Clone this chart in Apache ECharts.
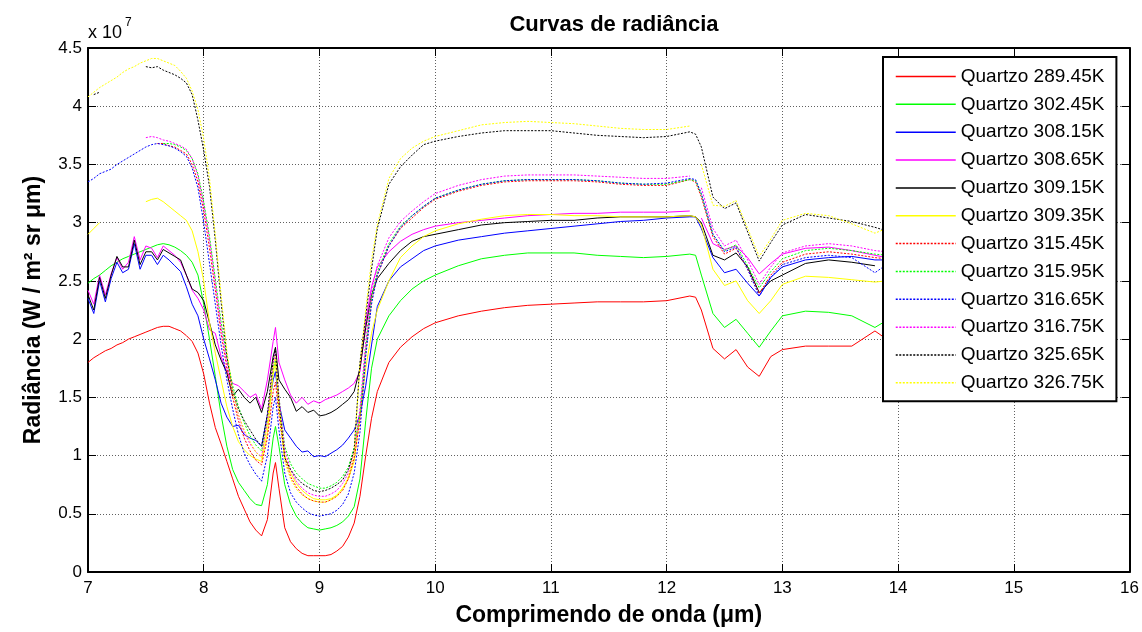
<!DOCTYPE html>
<html>
<head>
<meta charset="utf-8">
<script src="https://cdn.jsdelivr.net/npm/echarts@6/dist/echarts.min.js"></script>
<style>
  html, body { margin: 0; padding: 0; background: #fff; }
  #chart { width: 1142px; height: 632px; }
</style>
</head>
<body>
<div id="chart"></div>
<script>
// Wavelength samples (µm) shared by all curves
const wavelength = [
  7.0, 7.05, 7.1, 7.15, 7.2, 7.25, 7.3, 7.35, 7.4, 7.45,
  7.5, 7.55, 7.6, 7.65, 7.7, 7.75, 7.8, 7.85, 7.9, 7.95,
  8.0, 8.05, 8.1, 8.15, 8.2, 8.25, 8.3, 8.35, 8.4, 8.45,
  8.5, 8.55, 8.6, 8.62, 8.65, 8.7, 8.75, 8.8, 8.85, 8.9,
  8.95, 9.0, 9.05, 9.1, 9.15, 9.2, 9.25, 9.3, 9.35, 9.4,
  9.45, 9.5, 9.6, 9.7, 9.8, 9.9, 10.0, 10.2, 10.4, 10.6,
  10.8, 11.0, 11.2, 11.4, 11.6, 11.8, 12.0, 12.2, 12.25, 12.3,
  12.4, 12.5, 12.6, 12.7, 12.8, 12.9, 13.0, 13.2, 13.4, 13.6,
  13.8, 13.9
];

// Radiance in units of 1e7 W / (m^2 sr µm); null = missing sample
const q28945 = [
  1.80, 1.84, 1.87, 1.90, 1.92, 1.95, 1.97, 2.00, 2.02, 2.04,
  2.06, 2.08, 2.10, 2.11, 2.11, 2.09, 2.07, 2.03, 1.98, 1.88,
  1.70, 1.45, 1.24, 1.10, 0.95, 0.80, 0.65, 0.54, 0.43, 0.36,
  0.31, 0.45, 0.85, 0.94, 0.72, 0.38, 0.26, 0.20, 0.16, 0.14,
  0.14, 0.14, 0.14, 0.15, 0.18, 0.22, 0.30, 0.42, 0.65, 1.00,
  1.32, 1.55, 1.80, 1.93, 2.02, 2.09, 2.14, 2.20, 2.24, 2.27,
  2.29, 2.30, 2.31, 2.32, 2.32, 2.32, 2.33, 2.37, 2.36, 2.25,
  1.92, 1.83, 1.91, 1.76, 1.68, 1.85, 1.91, 1.94, 1.94, 1.94,
  2.07, 2.00
];
const q30245 = [
  2.48, 2.52, 2.55, 2.59, 2.63, 2.66, 2.69, 2.71, 2.73, 2.75,
  2.77, 2.79, 2.81, 2.82, 2.81, 2.79, 2.76, 2.72, 2.66, 2.55,
  2.30, 2.00, 1.68, 1.35, 1.08, 0.88, 0.77, 0.70, 0.63, 0.58,
  0.57, 0.75, 1.15, 1.25, 1.08, 0.75, 0.58, 0.48, 0.42, 0.38,
  0.37, 0.36, 0.37, 0.38, 0.40, 0.43, 0.48, 0.56, 0.80, 1.30,
  1.75, 2.00, 2.20, 2.33, 2.43, 2.50, 2.55, 2.63, 2.69, 2.72,
  2.74, 2.74, 2.74, 2.72, 2.71, 2.70, 2.71, 2.73, 2.72, 2.55,
  2.22, 2.10, 2.17, 2.05, 1.93, 2.07, 2.20, 2.24, 2.23, 2.20,
  2.10, 2.16
];
const q30815 = [
  2.35, 2.22, 2.50, 2.32, 2.52, 2.66, 2.57, 2.60, 2.82, 2.60,
  2.72, 2.72, 2.64, 2.72, 2.68, 2.63, 2.58, 2.45, 2.30, 2.20,
  2.00, 1.83, 1.65, 1.45, 1.33, 1.25, 1.26, 1.18, 1.15, 1.13,
  1.08, 1.35, 1.65, 1.72, 1.45, 1.22, 1.15, 1.08, 1.03, 1.04,
  0.99, 1.00, 0.99, 1.02, 1.05, 1.09, 1.15, 1.22, 1.35, 1.60,
  1.95, 2.28, 2.50, 2.62, 2.69, 2.76, 2.80, 2.85, 2.88, 2.91,
  2.93, 2.95, 2.97, 2.99, 3.01, 3.02, 3.04, 3.05, 3.05, 2.95,
  2.70, 2.57, 2.60, 2.48, 2.37, 2.53, 2.62, 2.68, 2.70, 2.71,
  2.68, 2.68
];
const q30865 = [
  2.42, 2.30, 2.55, 2.38, 2.56, 2.70, 2.60, 2.66, 2.88, 2.68,
  2.80, 2.78, 2.70, 2.80, 2.76, 2.72, 2.66, 2.55, 2.42, 2.35,
  2.25, 2.08, 2.05, 1.85, 1.72, 1.62, 1.60, 1.55, 1.50, 1.53,
  1.40, 1.65, 1.98, 2.10, 1.80, 1.65, 1.52, 1.45, 1.50, 1.44,
  1.47, 1.45, 1.48, 1.50, 1.52, 1.55, 1.58, 1.62, 1.72, 2.15,
  2.45, 2.62, 2.75, 2.84, 2.90, 2.94, 2.97, 3.00, 3.02, 3.04,
  3.06, 3.07, 3.08, 3.08, 3.09, 3.09, 3.09, 3.10, null, 3.04,
  2.82, 2.77, 2.80, 2.70, 2.56, 2.65, 2.73, 2.78, 2.79, 2.76,
  2.72, 2.70
];
const q30915 = [
  2.38, 2.25, 2.53, 2.35, 2.55, 2.71, 2.62, 2.62, 2.85, 2.64,
  2.75, 2.75, 2.68, 2.77, 2.74, 2.71, 2.68, 2.55, 2.43, 2.40,
  2.33, 2.14, 1.95, 1.82, 1.71, 1.51, 1.57, 1.50, 1.45, 1.50,
  1.37, 1.55, 1.85, 1.93, 1.65, 1.57, 1.50, 1.38, 1.42, 1.37,
  1.39, 1.34, 1.35, 1.37, 1.40, 1.44, 1.48, 1.55, 1.75, 2.10,
  2.38, 2.52, 2.65, 2.76, 2.84, 2.88, 2.90, 2.94, 2.98, 3.00,
  3.01, 3.02, 3.02, 3.04, 3.05, 3.05, 3.05, 3.06, 3.05, 3.00,
  2.72, 2.68, 2.74, 2.62, 2.40, 2.50, 2.55, 2.65, 2.68, 2.66,
  2.63, null
];
const q30935 = [
  2.90, 2.95, 3.00, null, null, null, null, null, null, null,
  3.18, 3.20, 3.21, 3.18, 3.14, 3.10, 3.06, 3.02, 2.93, 2.75,
  2.50, 2.14, 1.88, 1.65, 1.42, 1.25, 1.12, 1.05, 1.00, 0.97,
  0.95, 1.20, 1.70, 1.80, 1.45, 1.00, 0.85, 0.76, 0.70, 0.66,
  0.63, 0.62, 0.62, 0.63, 0.66, 0.72, 0.80, 0.95, 1.35, 1.75,
  2.05, 2.25, 2.50, 2.70, 2.80, 2.88, 2.93, 2.99, 3.03, 3.06,
  3.07, 3.07, 3.06, 3.06, 3.05, 3.05, 3.05, 3.06, 3.05, 2.98,
  2.60, 2.46, 2.50, 2.33, 2.22, 2.33, 2.47, 2.54, 2.53, 2.51,
  2.49, 2.50
];
const q31545 = [
  null, null, null, null, null, null, null, null, null, null,
  null, null, 3.68, 3.68, 3.66, 3.65, 3.62, 3.59, 3.50, 3.35,
  3.10, 2.78, 2.42, 2.05, 1.75, 1.50, 1.30, 1.15, 1.04, 0.96,
  0.92, 1.15, 1.55, 1.63, 1.35, 0.98, 0.82, 0.73, 0.67, 0.63,
  0.61, 0.60, 0.60, 0.62, 0.65, 0.70, 0.80, 0.98, 1.30, 1.88,
  2.33, 2.55, 2.80, 2.95, 3.04, 3.13, 3.20, 3.27, 3.32, 3.35,
  3.36, 3.36, 3.36, 3.35, 3.33, 3.32, 3.32, 3.37, 3.35, 3.22,
  2.88, 2.73, 2.78, 2.60, 2.39, 2.55, 2.66, 2.73, 2.75, 2.73,
  2.70, 2.69
];
const q31595 = [
  null, null, null, null, null, null, null, null, null, null,
  null, null, null, 3.68, 3.68, 3.67, 3.65, 3.62, 3.55, 3.42,
  3.18, 2.88, 2.52, 2.15, 1.85, 1.60, 1.42, 1.28, 1.17, 1.09,
  1.04, 1.30, 1.75, 1.82, 1.50, 1.08, 0.93, 0.85, 0.80, 0.76,
  0.74, 0.72, 0.72, 0.74, 0.77, 0.82, 0.90, 1.07, 1.35, 1.92,
  2.36, 2.58, 2.82, 2.97, 3.06, 3.14, 3.21, 3.28, 3.33, 3.36,
  3.37, 3.37, 3.37, 3.36, 3.34, 3.33, 3.33, 3.37, 3.36, 3.24,
  2.90, 2.76, 2.81, 2.63, 2.44, 2.58, 2.69, 2.76, 2.78, 2.76,
  2.73, 2.72
];
const q31665 = [
  3.35, 3.38, 3.42, 3.44, 3.46, 3.50, 3.53, 3.56, 3.59, 3.62,
  3.65, 3.67, 3.68, 3.67, 3.66, 3.64, 3.61, 3.57, 3.47, 3.30,
  3.00, 2.65, 2.30, 1.95, 1.65, 1.40, 1.18, 1.02, 0.92, 0.84,
  0.78, 1.00, 1.42, 1.50, 1.22, 0.85, 0.68, 0.60, 0.55, 0.51,
  0.49, 0.48, 0.49, 0.50, 0.53, 0.58, 0.67, 0.85, 1.20, 1.85,
  2.30, 2.55, 2.80, 2.96, 3.06, 3.14, 3.21, 3.28, 3.33, 3.36,
  3.37, 3.37, 3.37, 3.36, 3.34, 3.33, 3.34, 3.38, 3.37, 3.25,
  2.90, 2.75, 2.79, 2.60, 2.37, 2.53, 2.64, 2.70, 2.72, 2.70,
  2.57, 2.64
];
const q31675 = [
  null, null, null, null, null, null, null, null, null, null,
  3.73, 3.74, 3.73, 3.71, 3.70, 3.68, 3.66, 3.63, 3.55, 3.40,
  3.15, 2.85, 2.48, 2.10, 1.80, 1.55, 1.35, 1.20, 1.10, 1.03,
  0.99, 1.30, 1.80, 1.88, 1.50, 1.05, 0.88, 0.78, 0.72, 0.68,
  0.66, 0.65, 0.65, 0.67, 0.70, 0.76, 0.85, 1.03, 1.40, 1.98,
  2.42, 2.63, 2.87, 3.01, 3.10, 3.18, 3.25, 3.32, 3.37, 3.40,
  3.41, 3.41, 3.41, 3.40, 3.39, 3.38, 3.38, 3.40, null, 3.30,
  2.95, 2.80, 2.85, 2.68, 2.47, 2.62, 2.74, 2.80, 2.82, 2.80,
  2.76, 2.75
];
const q32565 = [
  null, 4.10, 4.12, null, null, null, null, null, null, null,
  4.34, 4.33, 4.34, 4.31, 4.29, 4.27, 4.24, 4.20, 4.10, 3.88,
  3.62, 3.31, 2.85, 2.32, 1.85, 1.55, 1.40, 1.30, 1.22, 1.14,
  1.08, 1.35, 1.82, 1.92, 1.45, 0.98, 0.88, 0.81, 0.76, 0.73,
  0.70, 0.69, 0.70, 0.72, 0.75, 0.79, 0.88, 1.05, 1.80, 2.20,
  2.60, 2.95, 3.33, 3.48, 3.58, 3.67, 3.70, 3.74, 3.77, 3.79,
  3.79, 3.79, 3.77, 3.75, 3.74, 3.73, 3.74, 3.78, 3.76, 3.65,
  3.22, 3.12, 3.17, 2.92, 2.67, 2.83, 2.98, 3.07, 3.04, 3.01,
  2.96, 2.93
];
const q32675 = [
  4.08, 4.12, 4.16, 4.19, 4.22, 4.25, 4.29, 4.32, 4.34, 4.37,
  4.39, 4.41, 4.41, 4.39, 4.37, 4.35, 4.30, 4.24, 4.13, 3.97,
  3.72, 3.38, 2.90, 2.38, 1.90, 1.55, 1.35, 1.22, 1.12, 1.03,
  0.98, 1.28, 1.75, 1.85, 1.42, 0.95, 0.80, 0.71, 0.66, 0.63,
  0.61, 0.60, 0.60, 0.62, 0.65, 0.71, 0.82, 1.02, 1.78, 2.25,
  2.68, 2.98, 3.38, 3.55, 3.64, 3.70, 3.74, 3.79, 3.84, 3.86,
  3.87, 3.86, 3.85, 3.83, 3.81, 3.80, 3.80, 3.83, null, 3.50,
  3.15, 3.14, 3.19, 2.95, 2.71, 2.86, 3.02, 3.08, 3.06, 2.99,
  2.91, 2.95
];

const seriesNames = [
  'Quartzo 289.45K', 'Quartzo 302.45K', 'Quartzo 308.15K', 'Quartzo 308.65K',
  'Quartzo 309.15K', 'Quartzo 309.35K', 'Quartzo 315.45K', 'Quartzo 315.95K',
  'Quartzo 316.65K', 'Quartzo 316.75K', 'Quartzo 325.65K', 'Quartzo 326.75K'
];
const seriesValues = [q28945, q30245, q30815, q30865, q30915, q30935,
                      q31545, q31595, q31665, q31675, q32565, q32675];
const seriesColors = ['#ff0000', '#00ff00', '#0000ff', '#ff00ff', '#000000', '#ffff00',
                      '#ff0000', '#00ff00', '#0000ff', '#ff00ff', '#000000', '#ffff00'];
const seriesDotted = [false, false, false, false, false, false,
                      true, true, true, true, true, true];

const xTicks = { min: 7, max: 16, step: 1 };
const yTicks = { min: 0, max: 4.5, step: 0.5 };

const font = 'Arial, "Liberation Sans", Helvetica, sans-serif';
const gridDash = { color: '#606060', width: 1, type: [1, 2] };

const series = seriesNames.map((name, i) => ({
  name: name,
  type: 'line',
  symbol: 'none',
  showSymbol: false,
  connectNulls: false,
  silent: true,
  color: seriesColors[i],
  lineStyle: {
    color: seriesColors[i],
    width: 1,
    type: seriesDotted[i] ? [2, 1.5] : 'solid'
  },
  data: wavelength.map((w, k) => [w, seriesValues[i][k]])
}));

const chart = echarts.init(document.getElementById('chart'), null, { renderer: 'canvas' });
chart.setOption({
  animation: false,
  backgroundColor: '#ffffff',
  title: {
    text: 'Curvas de radiância',
    left: 609,
    top: 9,
    textAlign: 'center',
    textStyle: { fontFamily: font, fontSize: 22, fontWeight: 'bold', color: '#000' }
  },
  grid: { left: 88, right: 11, top: 48, bottom: 59, containLabel: false },
  legend: {
    orient: 'vertical',
    left: 883,
    top: 57,
    padding: [10, 12, 9, 12],
    itemWidth: 60,
    itemHeight: 14,
    itemGap: 8.85,
    backgroundColor: '#ffffff',
    borderColor: '#000000',
    borderWidth: 2,
    borderRadius: 0,
    selectedMode: false,
    itemStyle: { opacity: 0 },
    lineStyle: { width: 1.5 },
    textStyle: { fontFamily: font, fontSize: 19, lineHeight: 19, color: '#000' },
    data: seriesNames
  },
  xAxis: [{
    type: 'value',
    min: xTicks.min,
    max: xTicks.max,
    interval: xTicks.step,
    position: 'bottom',
    name: 'Comprimendo de onda (μm)',
    nameLocation: 'middle',
    nameGap: 32,
    nameTextStyle: { fontFamily: font, fontSize: 23, fontWeight: 'bold', color: '#000' },
    axisLine: { show: true, onZero: false, lineStyle: { color: '#000', width: 2 } },
    axisTick: { show: true, inside: true, length: 8, lineStyle: { color: '#000', width: 1 } },
    axisLabel: { fontFamily: font, fontSize: 17, color: '#000', margin: 8 },
    splitLine: { show: true, lineStyle: gridDash }
  }, {
    type: 'value',
    min: xTicks.min,
    max: xTicks.max,
    interval: xTicks.step,
    position: 'top',
    axisLine: { show: true, onZero: false, lineStyle: { color: '#000', width: 2 } },
    axisTick: { show: true, inside: true, length: 8, lineStyle: { color: '#000', width: 1 } },
    axisLabel: { show: false },
    splitLine: { show: false }
  }],
  yAxis: [{
    type: 'value',
    min: yTicks.min,
    max: yTicks.max,
    interval: yTicks.step,
    position: 'left',
    name: 'Radiância (W / m² sr μm)',
    nameLocation: 'middle',
    nameGap: 43,
    nameRotate: 90,
    nameTextStyle: { fontFamily: font, fontSize: 23, fontWeight: 'bold', color: '#000' },
    axisLine: { show: true, onZero: false, lineStyle: { color: '#000', width: 2 } },
    axisTick: { show: true, inside: true, length: 8, lineStyle: { color: '#000', width: 1 } },
    axisLabel: {
      fontFamily: font, fontSize: 17, color: '#000', margin: 6,
      formatter: v => String(Math.round(v * 10) / 10)
    },
    splitLine: { show: true, lineStyle: gridDash }
  }, {
    type: 'value',
    min: yTicks.min,
    max: yTicks.max,
    interval: yTicks.step,
    position: 'right',
    axisLine: { show: true, onZero: false, lineStyle: { color: '#000', width: 2 } },
    axisTick: { show: true, inside: true, length: 8, lineStyle: { color: '#000', width: 1 } },
    axisLabel: { show: false },
    splitLine: { show: false }
  }],
  graphic: [
    { type: 'text', x: 88, y: 24, style: { text: 'x 10', font: '18px ' + font, fill: '#000' } },
    { type: 'text', x: 125, y: 17, style: { text: '7', font: '12px ' + font, fill: '#000' } }
  ],
  series: series
});
</script>
</body>
</html>
